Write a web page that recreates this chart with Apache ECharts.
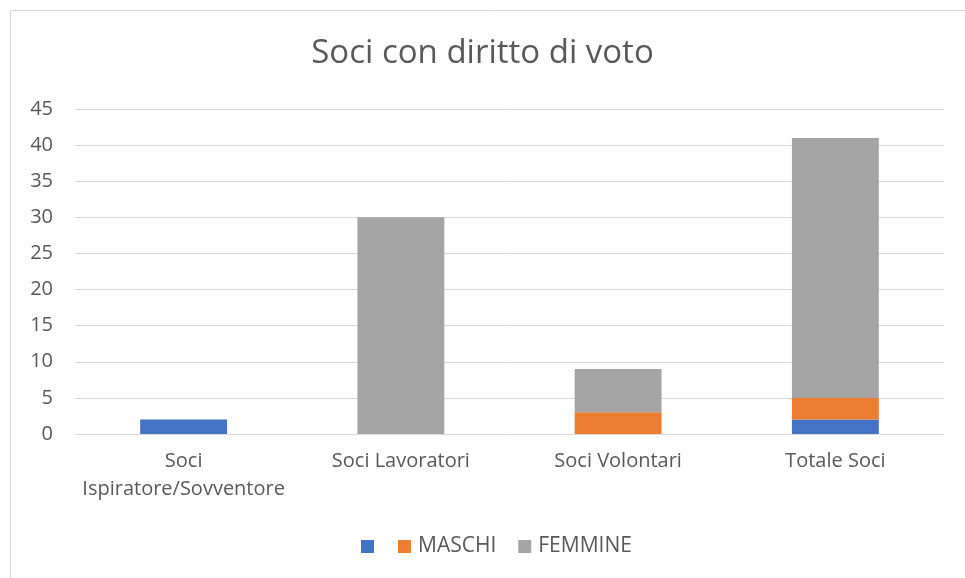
<!DOCTYPE html>
<html>
<head>
<meta charset="utf-8">
<script src="https://cdn.jsdelivr.net/npm/echarts@6/dist/echarts.min.js"></script>
<style>
  html, body { margin: 0; padding: 0; background: #fff; }
  #main { width: 965px; height: 578px; }
</style>
</head>
<body>
<div id="main"></div>
<script>
// categorie e valori
var categories = ['Soci\nIspiratore/Sovventore', 'Soci Lavoratori', 'Soci Volontari', 'Totale Soci'];
var blu = [2, 0, 0, 2];
var maschi = [0, 0, 3, 3];
var femmine = [0, 30, 6, 36];
var yTicks = [0, 45, 5];

var myChart = echarts.init(document.getElementById('main'));

// stile comune delle due legende
var legendBase = {
  bottom: 16,
  itemWidth: 13,
  itemHeight: 13,
  itemGap: 22,
  icon: 'rect',
  textStyle: { color: '#595959', fontSize: 21, padding: [0, 0, 0, 2] }
};

var option = {
  textStyle: { fontFamily: 'Open Sans' },
  // cornice del grafico
  graphic: [{
    type: 'rect',
    shape: { x: 10.5, y: 10.5, width: 970, height: 580 },
    style: { fill: 'none', stroke: '#d9d9d9', lineWidth: 1 },
    silent: true
  }],
  title: {
    text: 'Soci con diritto di voto',
    left: 'center',
    top: 32,
    textStyle: { fontSize: 33, fontWeight: 'normal', color: '#595959', fontFamily: 'Open Sans' }
  },
  legend: [
    Object.assign({}, legendBase, { left: 356, data: [' '] }),
    Object.assign({}, legendBase, { left: 393, data: ['MASCHI', 'FEMMINE'] })
  ],
  grid: {
    left: 75,
    right: 21,
    top: 109,
    bottom: 144
  },
  xAxis: {
    type: 'category',
    data: categories,
    axisTick: { show: false },
    axisLine: { lineStyle: { color: '#d9d9d9' } },
    axisLabel: { color: '#595959', fontSize: 20, margin: 13, lineHeight: 28, interval: 0 }
  },
  yAxis: {
    type: 'value',
    min: yTicks[0],
    max: yTicks[1],
    interval: yTicks[2],
    axisLine: { show: false },
    axisTick: { show: false },
    axisLabel: { color: '#595959', fontSize: 20, margin: 22 },
    splitLine: { lineStyle: { color: '#d9d9d9' } }
  },
  series: [{
      type: 'bar',
      name: ' ',
      stack: 'tot',
      barWidth: '40%',
      itemStyle: { color: '#4472c4' },
      data: blu
    },
    {
      type: 'bar',
      name: 'MASCHI',
      stack: 'tot',
      itemStyle: { color: '#ed7d31' },
      data: maschi
    },
    {
      type: 'bar',
      name: 'FEMMINE',
      stack: 'tot',
      itemStyle: { color: '#a5a5a5' },
      data: femmine
    }
  ]
};

myChart.setOption(option);
</script>
</body>
</html>
